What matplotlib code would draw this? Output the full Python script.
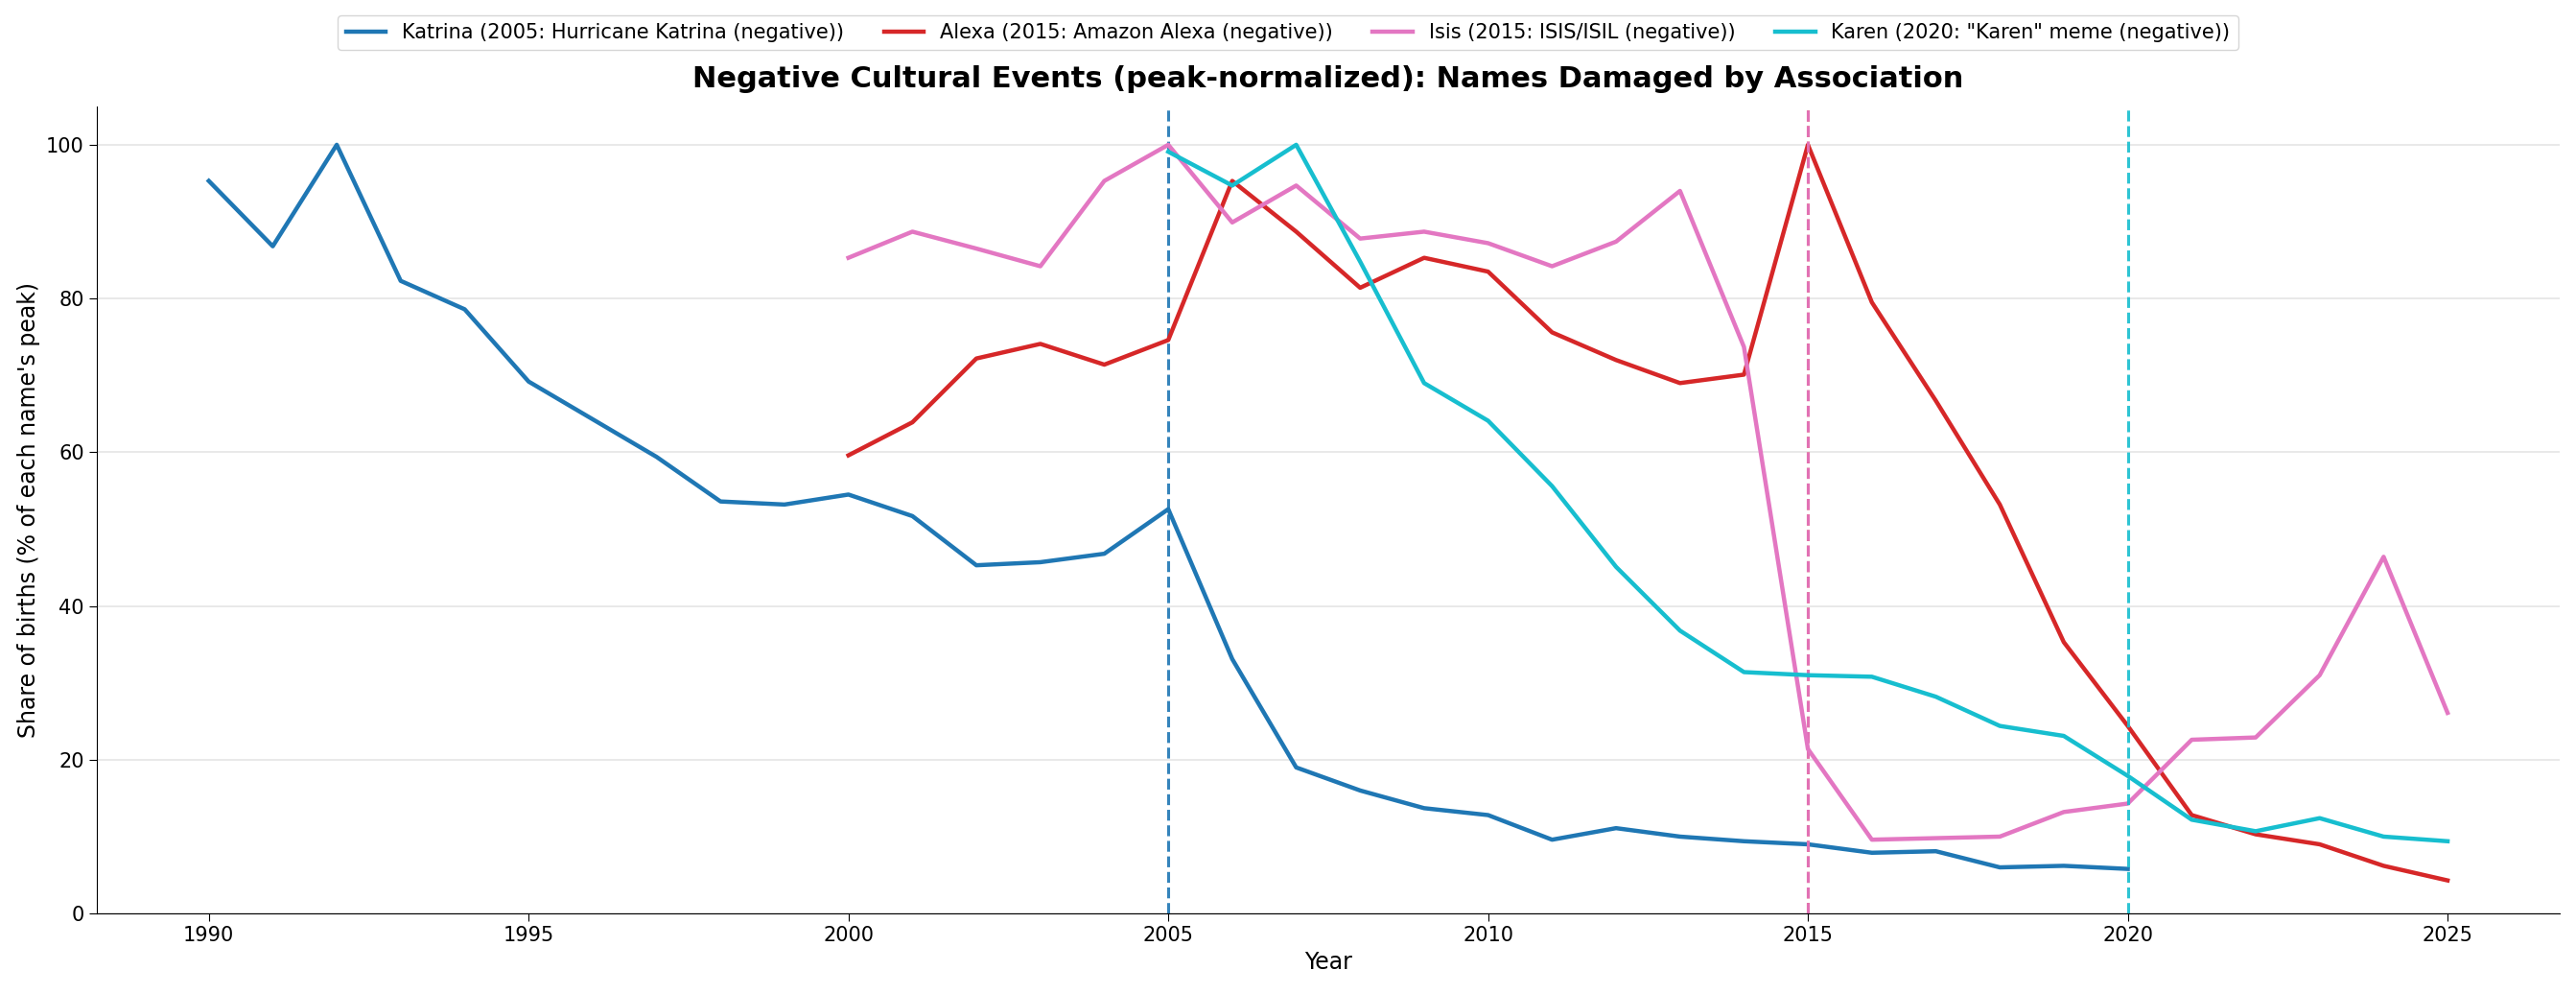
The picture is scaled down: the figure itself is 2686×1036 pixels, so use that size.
import matplotlib.pyplot as plt
import numpy as np

katrina_years = list(range(1990, 2021))
katrina = [95.3, 86.8, 100, 82.3, 78.6, 69.2, 64.3, 59.4, 53.6, 53.2, 54.5, 51.7, 45.3, 45.7, 46.8,
           52.6, 33.1, 19.0, 16.0, 13.7, 12.8, 9.6, 11.1, 10.0, 9.4, 9.0, 7.9, 8.1, 6.0, 6.2, 5.8]
alexa_years = list(range(2000, 2026))
alexa = [59.6, 63.9, 72.2, 74.1, 71.4, 74.6, 95.3, 88.7, 81.4, 85.3, 83.5, 75.6, 72.0, 69.0, 70.1,
         100, 79.5, 66.7, 53.2, 35.3, 24.4, 12.8, 10.3, 9.0, 6.2, 4.3]
isis_years = list(range(2000, 2026))
isis = [85.3, 88.7, 86.5, 84.2, 95.3, 100, 89.9, 94.7, 87.8, 88.7, 87.2, 84.2, 87.4, 94.0, 73.7,
        21.4, 9.6, 9.8, 10.0, 13.2, 14.3, 22.6, 22.9, 31.0, 46.4, 26.1]
karen_years = list(range(2005, 2026))
karen = [99.1, 94.7, 100, 84.8, 69.0, 64.1, 55.6, 45.1, 36.8, 31.4, 31.0, 30.8, 28.2, 24.4, 23.1,
         17.9, 12.2, 10.7, 12.4, 10.0, 9.4]

series = [
    ("Katrina (2005: Hurricane Katrina (negative))", katrina_years, katrina, "#1f77b4", 2005),
    ("Alexa (2015: Amazon Alexa (negative))", alexa_years, alexa, "#d62728", 2015),
    ("Isis (2015: ISIS/ISIL (negative))", isis_years, isis, "#e377c2", 2015),
    ('Karen (2020: "Karen" meme (negative))', karen_years, karen, "#17becf", 2020),
]

fig = plt.figure(figsize=(26.86, 10.36), dpi=100)
ax = fig.add_axes([0.0376, 0.081, 0.956, 0.812])

for label, yrs, vals, col, ev in series:
    ax.plot(yrs, vals, color=col, lw=3.2, label=label)
    ax.axvline(ev, color=col, ls="--", lw=2.2, alpha=0.9)

ax.set_xlim(1988.25, 2026.75)
ax.set_ylim(0, 105)
ax.set_xticks(range(1990, 2026, 5))
ax.tick_params(labelsize=15, length=6)
ax.grid(axis="y", color="#e5e5e5", lw=1.2)
ax.set_axisbelow(True)
for s in ["top", "right"]:
    ax.spines[s].set_visible(False)
ax.set_xlabel("Year", fontsize=17)
ax.set_ylabel("Share of births (% of each name's peak)", fontsize=17)
ax.set_title("Negative Cultural Events (peak-normalized): Names Damaged by Association",
             fontsize=22, fontweight="bold", pad=14)
fig.legend(loc="upper center", bbox_to_anchor=(0.5, 0.995), ncol=4, fontsize=15, frameon=True)

fig.savefig("out.png", dpi=100)
